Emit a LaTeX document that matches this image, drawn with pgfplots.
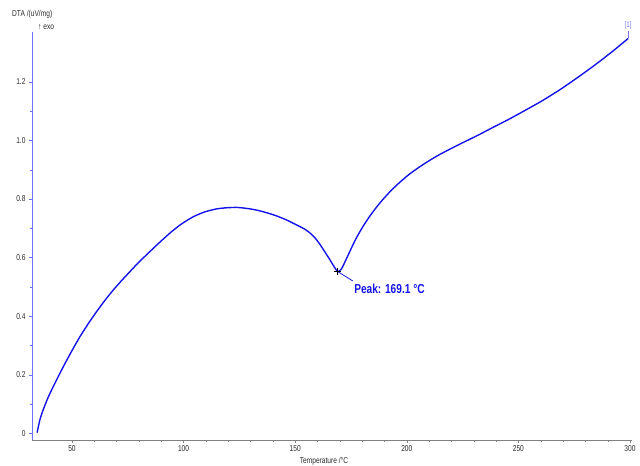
\documentclass[border=0pt]{standalone}
\usepackage{fontspec}
\setmainfont{Liberation Sans}[FakeStretch=0.78]
\usepackage{pgfplots}
\pgfplotsset{compat=1.18}
\definecolor{curve}{RGB}{20,20,235}
\definecolor{yax}{RGB}{110,110,255}
\definecolor{lbl}{RGB}{120,120,240}
\definecolor{txt}{RGB}{40,40,40}
\pgfplotstableread{
T v
34.4 0.002
35.6 0.045
37.1 0.080
39.3 0.122
41.6 0.159
46.1 0.227
50.0 0.282
53.6 0.330
57.3 0.374
61.1 0.416
64.8 0.454
68.5 0.489
72.2 0.521
76.0 0.552
79.7 0.582
83.5 0.610
87.2 0.637
90.9 0.663
94.6 0.688
98.4 0.711
101.4 0.726
104.3 0.739
107.2 0.749
110.0 0.757
114.8 0.766
119.5 0.770
124.0 0.771
128.0 0.768
132.7 0.762
137.2 0.753
141.7 0.742
146.2 0.728
150.7 0.711
153.8 0.699
156.6 0.684
159.0 0.666
161.1 0.645
163.4 0.618
165.6 0.592
167.5 0.568
169.1 0.552
170.8 0.562
173.1 0.598
175.3 0.634
177.5 0.668
180.3 0.705
183.5 0.742
187.8 0.785
192.5 0.825
196.9 0.857
201.4 0.886
207.4 0.918
213.4 0.946
219.3 0.970
225.3 0.993
232.0 1.018
238.8 1.045
245.5 1.071
252.2 1.099
260.4 1.134
268.6 1.173
276.8 1.216
285.1 1.262
292.2 1.304
299.2 1.348
}\dta
\begin{document}
\begin{tikzpicture}
\begin{axis}[name=ax,
  scale only axis, width=600pt, height=408pt,
  xmin=32.1, xmax=300.9, ymin=-0.023, ymax=1.37,
  axis x line*=bottom, axis y line*=left,
  x axis line style={gray,-}, y axis line style={yax,-,line width=0.8pt},
  xtick={50,100,...,300}, minor x tick num=4,
  ytick={0,0.2,0.4,0.6,0.8,1.0,1.2}, yticklabels={0,0.2,0.4,0.6,0.8,1.0,1.2},
  minor y tick num=1,
  tick align=outside,
  major tick length=3pt, minor tick length=2pt,
  x tick style={gray}, y tick style={yax},
  tick label style={font=\fontsize{8.5}{9}\selectfont, text=txt},
  xticklabel style={yshift=1pt},
  /pgf/number format/assume math mode=true,
  clip=false,
]
\addplot[curve, line width=1.4pt, smooth, tension=0.4] table[x=T,y=v] {\dta};
\addplot[only marks, mark=+, mark size=3.5pt, black, thick] coordinates {(169.1,0.552)};
\draw[curve, line width=0.8pt] (axis cs:169.1,0.552) -- (axis cs:175.8,0.520);
\node[anchor=base west, inner sep=0pt, text=curve, font=\fontsize{13}{14}\selectfont\bfseries] at (axis cs:176.4,0.4755) {Peak: 169.1 °C};
\draw[lbl, line width=0.6pt] (axis cs:299.2,1.348) -- (axis cs:299.2,1.375);
\node[anchor=south, inner sep=1pt, text=lbl, font=\fontsize{8}{9}\selectfont] at (axis cs:299.2,1.375) {[1]};
\end{axis}
\node[anchor=west, inner sep=0pt, text=txt, font=\fontsize{8.5}{9}\selectfont] at ([xshift=-20pt,yshift=18pt]ax.north west) {DTA /(uV/mg)};
\node[anchor=west, inner sep=0pt, text=txt, font=\fontsize{8.5}{9}\selectfont] at ([xshift=6pt,yshift=5pt]ax.north west) {\symbol{"2191} exo};
\node[anchor=north, inner sep=0pt, text=txt, font=\fontsize{8.5}{9}\selectfont] at ([xshift=-8pt,yshift=-17pt]ax.south) {Temperature /°C};
\path[use as bounding box] ([xshift=-32pt,yshift=-22pt]ax.south west) rectangle ([xshift=8pt,yshift=32pt]ax.north east);
\end{tikzpicture}
\end{document}
